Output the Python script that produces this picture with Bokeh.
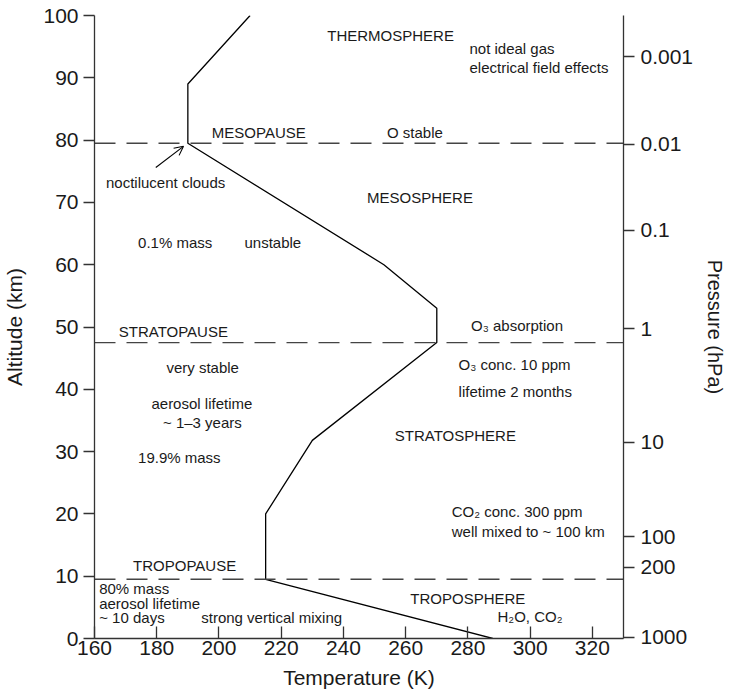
from bokeh.plotting import figure
from bokeh.models import (Range1d, LinearAxis, FixedTicker, CustomJSTickFormatter,
                          Arrow, OpenHead, ColumnDataSource)
from bokeh.embed import file_html
from bokeh.resources import INLINE
from bokeh.core.properties import value

# ---- data ----
temp_K = [288, 215, 215, 230, 270, 270, 253, 190, 190, 210]
alt_km = [0, 9.5, 20, 31.8, 47.5, 53, 60, 79.5, 89, 100]

pause_names = ["TROPOPAUSE", "STRATOPAUSE", "MESOPAUSE"]
pause_alt = [9.5, 47.5, 79.5]

x_ticks = [160, 180, 200, 220, 240, 260, 280, 300, 320]
y_ticks = [0, 10, 20, 30, 40, 50, 60, 70, 80, 90, 100]

pressure_labels = ["1000", "200", "100", "10", "1", "0.1", "0.01", "0.001"]
pressure_alt = [0.2, 11.4, 16.3, 31.5, 49.7, 65.5, 79.3, 93.4]

ann_text = ["THERMOSPHERE", "not ideal gas", "electrical field effects",
            "MESOPAUSE", "O stable", "noctilucent clouds", "MESOSPHERE",
            "0.1% mass", "unstable", "STRATOPAUSE", "O\u2083 absorption",
            "very stable", "aerosol lifetime", "~ 1\u20133 years", "19.9% mass",
            "O\u2083 conc. 10 ppm", "lifetime 2 months", "STRATOSPHERE",
            "CO\u2082 conc. 300 ppm", "well mixed to ~ 100 km", "TROPOPAUSE",
            "80% mass", "aerosol lifetime", "~ 10 days", "strong vertical mixing",
            "TROPOSPHERE", "H\u2082O, CO\u2082"]
ann_x = [234.8, 280.5, 280.5, 197.7, 254.0, 163.7, 247.6, 174.0, 208.2, 167.8,
         281.0, 183.1, 178.3, 182.0, 174.0, 277.0, 277.0, 256.5, 274.8, 274.8,
         172.4, 161.5, 161.5, 161.5, 194.3, 261.5, 289.5]
ann_y = [96.8, 94.7, 91.7, 81.3, 81.3, 73.2, 70.8, 63.5, 63.5, 49.2, 50.2,
         43.5, 37.7, 34.7, 29.0, 44.0, 39.7, 32.6, 20.4, 17.1, 11.7, 8.1, 5.6,
         3.4, 3.4, 6.5, 3.5]

arrow_from = (179.7, 75.6)
arrow_to = (188.6, 79.0)

FONT = "Liberation Sans"
INK = "#1a1a1a"

p = figure(width=729, height=699, output_backend="svg", toolbar_location=None,
           x_range=Range1d(160, 330), y_range=Range1d(0, 100),
           x_axis_label="Temperature (K)", y_axis_label="Altitude (km)",
           min_border_left=94, min_border_right=103, min_border_top=15,
           min_border_bottom=61)
p.grid.visible = False
p.outline_line_color = None
p.background_fill_color = "white"
p.border_fill_color = "white"

# temperature profile
p.line(temp_K, alt_km, line_color="black", line_width=1.3)

# pause dashed lines
for a in pause_alt:
    p.line([160, 330], [a, a], line_color="#444444", line_width=1.4,
           line_dash="21 11")

# annotations
src = ColumnDataSource(dict(x=ann_x, y=ann_y, text=ann_text))
p.text(x="x", y="y", text="text", source=src, text_font=value(FONT),
       text_font_size="15px", text_color=INK, text_align="left",
       text_baseline="middle")

p.add_layout(Arrow(end=OpenHead(size=9, line_width=1.1, line_color="black"),
                   x_start=arrow_from[0], y_start=arrow_from[1],
                   x_end=arrow_to[0], y_end=arrow_to[1],
                   line_color="black", line_width=1.1))

def style_axis(ax, label_size="21px"):
    ax.axis_line_color = "#333333"
    ax.axis_line_width = 1.3
    ax.major_tick_line_color = "#333333"
    ax.major_tick_line_width = 1.3
    ax.minor_tick_line_color = None
    ax.major_label_text_font = FONT
    ax.major_label_text_font_size = "21px"
    ax.major_label_text_color = INK
    ax.axis_label_text_font = FONT
    ax.axis_label_text_font_size = label_size
    ax.axis_label_text_font_style = "normal"
    ax.axis_label_text_color = INK

xa = p.xaxis[0]
style_axis(xa)
xa.ticker = FixedTicker(ticks=x_ticks)
xa.major_tick_in = 12
xa.major_tick_out = 0
xa.major_label_standoff = 2
xa.axis_label_standoff = 8

ya = p.yaxis[0]
style_axis(ya)
ya.ticker = FixedTicker(ticks=y_ticks)
ya.major_tick_in = 0
ya.major_tick_out = 11
ya.major_label_standoff = 5
ya.axis_label_standoff = 14

p.extra_y_ranges = {"pres": Range1d(0, 100)}
ra = LinearAxis(y_range_name="pres", axis_label="Pressure (hPa)")
style_axis(ra, "20px")
ra.ticker = FixedTicker(ticks=pressure_alt)
ra.formatter = CustomJSTickFormatter(
    args=dict(alts=pressure_alt, labels=pressure_labels),
    code="""
let best = 0; let bd = 1e9;
for (let i = 0; i < alts.length; i++) {
  const d = Math.abs(alts[i] - tick);
  if (d < bd) { bd = d; best = i; }
}
return labels[best];
""")
ra.major_tick_in = 0
ra.major_tick_out = 11
ra.major_label_standoff = 6
ra.axis_label_standoff = 8
p.add_layout(ra, "right")

open("out.html", "w").write(file_html(p, INLINE))
